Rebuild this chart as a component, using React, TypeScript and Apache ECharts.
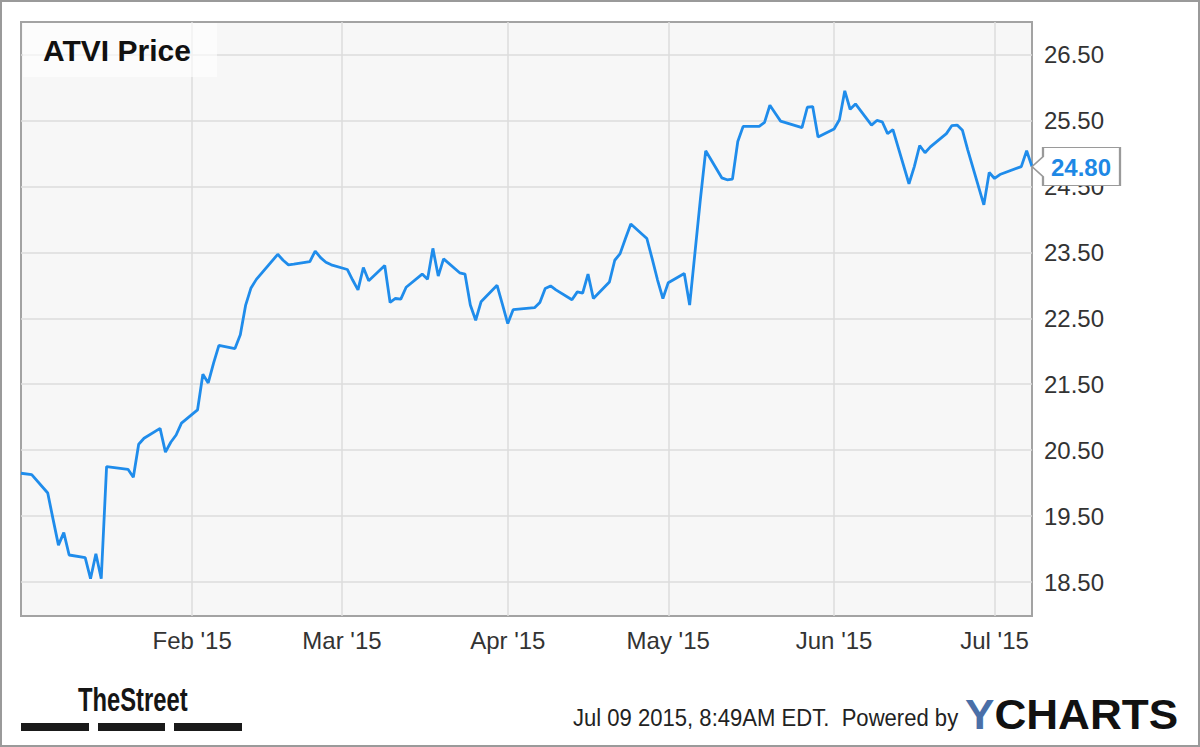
import React, { useEffect, useRef } from "react";
import * as echarts from "echarts";

const chartTitle = "ATVI Price";
const dates = [
  "2014-12-31",
  "2015-01-02", "2015-01-05", "2015-01-06", "2015-01-07", "2015-01-08", "2015-01-09",
  "2015-01-12", "2015-01-13", "2015-01-14", "2015-01-15", "2015-01-16", "2015-01-20",
  "2015-01-21", "2015-01-22", "2015-01-23", "2015-01-26", "2015-01-27", "2015-01-28",
  "2015-01-29", "2015-01-30",
  "2015-02-02", "2015-02-03", "2015-02-04", "2015-02-05", "2015-02-06", "2015-02-09",
  "2015-02-10", "2015-02-11", "2015-02-12", "2015-02-13", "2015-02-17", "2015-02-18",
  "2015-02-19", "2015-02-20", "2015-02-23", "2015-02-24", "2015-02-25", "2015-02-26",
  "2015-02-27",
  "2015-03-02", "2015-03-03", "2015-03-04", "2015-03-05", "2015-03-06", "2015-03-09",
  "2015-03-10", "2015-03-11", "2015-03-12", "2015-03-13", "2015-03-16", "2015-03-17",
  "2015-03-18", "2015-03-19", "2015-03-20", "2015-03-23", "2015-03-24", "2015-03-25",
  "2015-03-26", "2015-03-27", "2015-03-30", "2015-03-31",
  "2015-04-01", "2015-04-02", "2015-04-06", "2015-04-07", "2015-04-08", "2015-04-09",
  "2015-04-10", "2015-04-13", "2015-04-14", "2015-04-15", "2015-04-16", "2015-04-17",
  "2015-04-20", "2015-04-21", "2015-04-22", "2015-04-23", "2015-04-24", "2015-04-27",
  "2015-04-28", "2015-04-29", "2015-04-30",
  "2015-05-01", "2015-05-04", "2015-05-05", "2015-05-06", "2015-05-07", "2015-05-08",
  "2015-05-11", "2015-05-12", "2015-05-13", "2015-05-14", "2015-05-15", "2015-05-18",
  "2015-05-19", "2015-05-20", "2015-05-21", "2015-05-22", "2015-05-26", "2015-05-27",
  "2015-05-28", "2015-05-29",
  "2015-06-01", "2015-06-02", "2015-06-03", "2015-06-04", "2015-06-05", "2015-06-08",
  "2015-06-09", "2015-06-10", "2015-06-11", "2015-06-12", "2015-06-15", "2015-06-16",
  "2015-06-17", "2015-06-18", "2015-06-19", "2015-06-22", "2015-06-23", "2015-06-24",
  "2015-06-25", "2015-06-26", "2015-06-29", "2015-06-30",
  "2015-07-01", "2015-07-02", "2015-07-06", "2015-07-07", "2015-07-08",
];
const prices = [
  20.15,
  20.13, 19.85, 19.45, 19.06, 19.25, 18.91,
  18.87, 18.55, 18.93, 18.55, 20.25, 20.21,
  20.09, 20.59, 20.68, 20.83, 20.47, 20.62,
  20.73, 20.91,
  21.11, 21.65, 21.52, 21.82, 22.09, 22.04,
  22.25, 22.70, 22.96, 23.09, 23.47, 23.38,
  23.31, 23.32, 23.36, 23.52, 23.42, 23.35,
  23.31,
  23.24, 23.08, 22.93, 23.27, 23.07, 23.30,
  22.74, 22.80, 22.79, 22.97, 23.17, 23.09,
  23.56, 23.14, 23.40, 23.19, 23.17, 22.70,
  22.47, 22.75, 23.00, 22.71,
  22.42, 22.63, 22.66, 22.74, 22.95, 22.99,
  22.93, 22.78, 22.90, 22.88, 23.17, 22.80,
  23.05, 23.38, 23.48, 23.71, 23.93, 23.71,
  23.40, 23.08, 22.80,
  23.04, 23.18, 22.70, 23.50, 24.30, 25.04,
  24.63, 24.60, 24.61, 25.18, 25.41, 25.41,
  25.47, 25.73, 25.61, 25.49, 25.39, 25.70,
  25.71, 25.25,
  25.37, 25.51, 25.95, 25.67, 25.75, 25.43,
  25.50, 25.48, 25.30, 25.36, 24.54, 24.80,
  25.12, 25.01, 25.10, 25.30, 25.42, 25.43,
  25.35, 25.05, 24.22, 24.71,
  24.62, 24.68, 24.80, 25.04, 24.80,
];
const monthTicks = ["2015-02-01", "2015-03-01", "2015-04-01", "2015-05-01", "2015-06-01", "2015-07-01"];
const monthLabels = ["Feb '15", "Mar '15", "Apr '15", "May '15", "Jun '15", "Jul '15"];
const priceTicks = [18.5, 19.5, 20.5, 21.5, 22.5, 23.5, 24.5, 25.5, 26.5];
const xRange = ["2014-12-31", "2015-07-08"];
const yRange = [17.985, 26.993];
const footerStamp = "Jul 09 2015, 8:49AM EDT.  Powered by";

const FONT = "'Liberation Sans', Arial, Helvetica, sans-serif";

function toTime(s: string): number {
  const [y, m, d] = s.split("-").map(Number);
  return new Date(y, m - 1, d).getTime();
}

export default function App() {
  const ref = useRef<HTMLDivElement>(null);

  useEffect(() => {
    document.body.style.margin = "0";
    const chart = echarts.init(ref.current!, null, { renderer: "svg" });
    const monthTimes = monthTicks.map(toTime);
    const seriesData = dates.map((d, i) => [toTime(d), prices[i]]);
    const last = seriesData[seriesData.length - 1];

    chart.setOption({
      animation: false,
      backgroundColor: "#ffffff",
      grid: {
        left: 21,
        top: 22,
        width: 1011,
        height: 594,
        show: true,
        backgroundColor: "#f7f7f7",
        borderColor: "#a3a3a3",
        borderWidth: 2,
      },
      xAxis: {
        type: "value",
        min: toTime(xRange[0]),
        max: toTime(xRange[1]),
        axisLine: { show: false },
        axisTick: { show: false, customValues: monthTimes },
        axisLabel: {
          customValues: monthTimes,
          formatter: (v: number) => {
            const i = monthTimes.findIndex((t) => Math.abs(t - v) < 3600000);
            return i >= 0 ? monthLabels[i] : "";
          },
          fontSize: 24,
          color: "#333",
          fontFamily: FONT,
          margin: 12,
          hideOverlap: false,
        },
        splitLine: { show: true, lineStyle: { color: "#dcdcdc", width: 1.5 } },
      },
      yAxis: {
        type: "value",
        position: "right",
        min: yRange[0],
        max: yRange[1],
        axisLine: { show: false },
        axisTick: { show: false, customValues: priceTicks },
        axisLabel: {
          customValues: priceTicks,
          formatter: (v: number) => v.toFixed(2),
          fontSize: 24,
          color: "#333",
          fontFamily: FONT,
          margin: 12,
        },
        splitLine: { show: true, lineStyle: { color: "#dcdcdc", width: 1.5 } },
      },
      series: [
        {
          type: "line",
          data: seriesData,
          showSymbol: false,
          clip: false,
          lineStyle: { color: "#1f8ceb", width: 2.8 },
          itemStyle: { color: "#1f8ceb" },
          markPoint: {
            silent: true,
            z: 20,
            symbol: "path://M0,19 L11,9 L11,0 L88,0 L88,38 L11,38 L11,29 Z",
            symbolSize: [88, 38],
            symbolOffset: [44, 0],
            itemStyle: { color: "#ffffff", borderColor: "#9a9a9a", borderWidth: 1.5 },
            label: {
              show: true,
              position: "inside",
              offset: [5, 1],
              formatter: () => (last[1] as number).toFixed(2),
              color: "#1e88e5",
              fontSize: 24,
              fontWeight: "bold",
              fontFamily: FONT,
            },
            data: [{ coord: last }],
          },
        },
      ],
      graphic: [
        {
          type: "rect",
          shape: { x: 1, y: 1, width: 1198, height: 745 },
          style: { fill: "none", stroke: "#9a9a9a", lineWidth: 2 },
          silent: true,
          z: 100,
        },
        {
          type: "rect",
          shape: { x: 23, y: 23, width: 194, height: 54 },
          style: { fill: "rgba(255,255,255,0.6)" },
          silent: true,
          z: 100,
        },
        {
          type: "text",
          x: 43,
          y: 50,
          z: 101,
          style: {
            text: chartTitle,
            fill: "#111",
            font: `bold 30px ${FONT}`,
            verticalAlign: "middle",
          },
        },
        {
          type: "group",
          x: 78,
          y: 700,
          scaleX: 0.72,
          children: [
            {
              type: "text",
              x: 0,
              y: 0,
              style: {
                text: "TheStreet",
                fill: "#151515",
                font: `bold 33px ${FONT}`,
                verticalAlign: "middle",
              },
            },
          ],
        },
        { type: "rect", shape: { x: 21, y: 723, width: 68, height: 8 }, style: { fill: "#1a1a1a" } },
        { type: "rect", shape: { x: 98, y: 723, width: 67, height: 8 }, style: { fill: "#1a1a1a" } },
        { type: "rect", shape: { x: 174, y: 723, width: 68, height: 8 }, style: { fill: "#1a1a1a" } },
        {
          type: "group",
          x: 573,
          y: 718,
          scaleX: 0.92,
          children: [
            {
              type: "text",
              x: 0,
              y: 0,
              style: {
                text: footerStamp,
                fill: "#222",
                font: `24px ${FONT}`,
                verticalAlign: "middle",
              },
            },
          ],
        },
        {
          type: "group",
          x: 965,
          y: 714,
          scaleX: 1.05,
          children: [
            {
              type: "text",
              x: 0,
              y: 0,
              style: {
                text: "{y|Y}{c|CHARTS}",
                verticalAlign: "middle",
                rich: {
                  y: { fill: "#4a6fa8", font: `bold 42px ${FONT}` },
                  c: { fill: "#111", font: `bold 42px ${FONT}` },
                },
              },
            },
          ],
        },
      ],
    });
    return () => chart.dispose();
  }, []);

  return <div ref={ref} style={{ width: 1200, height: 747, background: "#fff" }} />;
}
